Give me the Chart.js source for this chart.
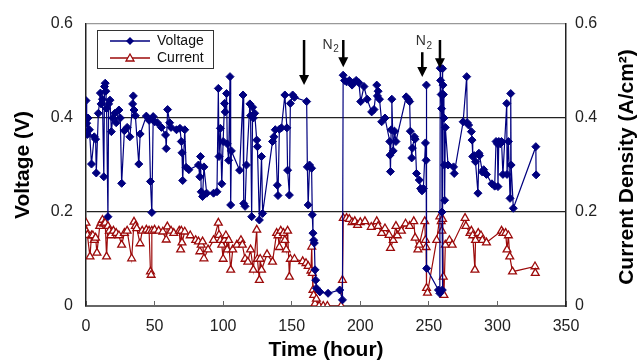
<!DOCTYPE html>
<html>
<head>
<meta charset="utf-8">
<script src="https://cdn.jsdelivr.net/npm/chart.js@4.4.0/dist/chart.umd.min.js"></script>
<style>
  body { margin: 0; background: #fff; }
  canvas { display: block; }
</style>
</head>
<body>
<canvas id="chart" width="642" height="363"></canvas>
<script>
// data (time in hours)
var voltageTime = [0, 0.5, 1, 1.5, 2.5, 4, 6, 7, 7.5, 9, 10.5, 11, 12, 13, 13.5, 14, 14.5, 15, 16, 16.5,
  17.5, 18.5, 19.5, 21, 22, 24, 25, 26, 28, 30, 32, 34, 34.5, 35, 36, 38.5, 39.5, 44, 46, 47,
  48, 49, 50, 52, 55, 58, 58.5, 59.5, 61, 62, 66, 68.5, 69.5, 70, 70.5, 72, 73, 75, 82, 83,
  83.5, 84, 85, 86, 88, 93, 95.5, 96.5, 97, 98, 99, 100, 101, 101.5, 102.5, 103, 104, 105, 105.5, 106,
  112, 114.5, 115, 116, 117, 119.5, 120, 120.8, 121.5, 122, 123, 124.5, 125, 126.4, 128, 128.8, 136, 137,
  138, 139.5, 140, 141, 142.5, 145, 146.5, 147, 148.3, 149, 150.7, 152, 160.9, 161.4, 162, 163, 164.5, 165,
  165.5, 166, 166.5, 167, 167.5, 168, 170.5, 176.5, 185, 187, 187.5, 188.5, 190, 192, 194, 195, 197, 199,
  200.3, 202.7, 205, 208.3, 210, 212, 212.5, 213, 214, 215.6, 218, 221.5, 221.7, 222, 222.5, 223, 224, 225,
  226, 233.5, 235, 236, 236.5, 237.5, 238, 239.5, 240, 241, 243, 244, 245, 246, 247.5, 248, 248.2, 248.4,
  257, 258, 258.3, 258.6, 259, 259.3, 259.6, 259.8, 260, 260.3, 260.6, 261, 261.3, 261.5, 262, 264, 268, 268.5,
  275, 277.6, 278, 279, 281, 281.5, 282, 283, 284, 285.8, 286.5, 287, 289, 290, 292, 296, 298, 299,
  300, 300.4, 301, 302, 303, 304, 306.8, 307, 308, 309.2, 309.7, 310, 311.6, 328, 328.2];
var voltageValue = [0.437, 0.389, 0.365, 0.40, 0.375, 0.302, 0.36, 0.355, 0.283, 0.41, 0.453, 0.43, 0.44, 0.275, 0.467, 0.474, 0.457, 0.42, 0.19, 0.43,
  0.438, 0.371, 0.40, 0.41, 0.39, 0.417, 0.40, 0.261, 0.373, 0.38, 0.36, 0.43, 0.447, 0.417, 0.405, 0.302, 0.366, 0.404, 0.395, 0.265,
  0.199, 0.403, 0.392, 0.39, 0.38, 0.364, 0.335, 0.418, 0.39, 0.38, 0.375, 0.378, 0.35, 0.326, 0.267, 0.375, 0.295, 0.29, 0.30, 0.275,
  0.318, 0.243, 0.233, 0.296, 0.24, 0.24, 0.243, 0.463, 0.318, 0.378, 0.26, 0.35, 0.431, 0.413, 0.452, 0.345, 0.31, 0.488, 0.215, 0.33,
  0.289, 0.449, 0.218, 0.212, 0.30, 0.43, 0.405, 0.19, 0.423, 0.40, 0.41, 0.353, 0.339, 0.183, 0.318, 0.197, 0.35, 0.36,
  0.375, 0.257, 0.235, 0.376, 0.379, 0.449, 0.379, 0.289, 0.236, 0.431, 0.449, 0.444, 0.435, 0.296, 0.215, 0.30, 0.293, 0.194,
  0.155, 0.14, 0.134, 0.077, 0.055, 0.038, 0.03, 0.027, 0.034, 0.013, 0.491, 0.48, 0.477, 0.48, 0.47, 0.475, 0.48, 0.475,
  0.435, 0.467, 0.44, 0.413, 0.418, 0.47, 0.447, 0.457, 0.44, 0.392, 0.40, 0.35, 0.321, 0.286, 0.375, 0.44, 0.33, 0.372,
  0.35, 0.445, 0.44, 0.435, 0.372, 0.315, 0.336, 0.36, 0.355, 0.282, 0.268, 0.25, 0.245, 0.25, 0.347, 0.31, 0.47, 0.08,
  0.034, 0.027, 0.506, 0.48, 0.45, 0.42, 0.2, 0.034, 0.505, 0.47, 0.45, 0.40, 0.30, 0.225, 0.38, 0.30, 0.296, 0.282,
  0.392, 0.488, 0.39, 0.385, 0.371, 0.353, 0.318, 0.32, 0.307, 0.24, 0.325, 0.32, 0.285, 0.29, 0.28, 0.26, 0.255, 0.35,
  0.345, 0.254, 0.35, 0.345, 0.35, 0.28, 0.431, 0.28, 0.35, 0.229, 0.452, 0.30, 0.208, 0.339, 0.279];

var currentTime = [0, 0.5, 1, 2.9, 4, 5, 6, 7, 8, 10, 11, 12, 13, 14, 15, 16, 17, 18, 20, 22,
  24, 26, 28, 30, 33.3, 35, 36, 37, 39.4, 41, 44, 46, 47, 47.5, 48, 50, 53, 56, 58.5, 59.3,
  62, 64, 68, 69, 69.5, 70, 72, 76, 80, 82, 83, 84, 85, 86, 89, 93, 96.5, 97, 98, 99,
  100, 101, 102, 103, 104, 105.5, 107, 110, 113, 114, 116, 118, 120, 122, 124.5, 125, 126.4, 127, 128, 132,
  136, 139, 140, 141, 142, 144, 145, 146, 147, 148.3, 149, 152, 158, 160.4, 162, 164, 164.6, 165, 165.5, 166,
  167, 168, 170, 173, 176, 186, 187, 187.6, 190, 192, 194, 196, 198, 200, 203.4, 208, 212, 213, 215.6, 218,
  221, 222, 224, 226, 227, 230, 233, 236, 239, 240, 242, 243, 247, 247.5, 248, 248.3, 249, 255.7, 258, 259,
  259.5, 260, 260.5, 261, 262, 265, 267, 276.4, 277, 280, 281, 282, 283.6, 284, 286, 288, 289, 292, 303, 304,
  306, 307, 308, 309, 311, 327.4, 327.6];
var currentValue = [0.177, 0.158, 0.151, 0.105, 0.15, 0.15, 0.14, 0.145, 0.113, 0.17, 0.177, 0.183, 0.175, 0.177, 0.105, 0.17, 0.16, 0.15, 0.16, 0.155,
  0.15, 0.13, 0.155, 0.16, 0.101, 0.179, 0.17, 0.165, 0.133, 0.16, 0.162, 0.16, 0.073, 0.066, 0.16, 0.162, 0.16, 0.158, 0.141, 0.169,
  0.16, 0.155, 0.16, 0.12, 0.16, 0.135, 0.158, 0.15, 0.14, 0.137, 0.116, 0.13, 0.137, 0.101, 0.12, 0.14, 0.177, 0.151, 0.14, 0.13,
  0.1, 0.14, 0.15, 0.12, 0.14, 0.077, 0.12, 0.13, 0.14, 0.13, 0.1, 0.094, 0.12, 0.077, 0.162, 0.1, 0.055, 0.1, 0.077, 0.11,
  0.094, 0.155, 0.15, 0.125, 0.16, 0.155, 0.14, 0.12, 0.16, 0.062, 0.1, 0.1, 0.095, 0.091, 0.085, 0.075, 0.126, 0.07, 0.034, 0.023,
  0.005, 0.015, 0, 0, 0, 0, 0.055, 0.187, 0.187, 0.185, 0.178, 0.18, 0.172, 0.178, 0.18, 0.168, 0.18, 0.17, 0.155, 0.165,
  0.151, 0.123, 0.14, 0.17, 0.15, 0.16, 0.175, 0.17, 0.18, 0.145, 0.12, 0.13, 0.18, 0.14, 0.125, 0.038, 0.028, 0.14, 0.19, 0.18,
  0.16, 0.185, 0.062, 0.023, 0.13, 0.14, 0.13, 0.187, 0.17, 0.155, 0.16, 0.15, 0.077, 0.14, 0.155, 0.15, 0.14, 0.135, 0.16, 0.155,
  0.155, 0.12, 0.15, 0.105, 0.073, 0.084, 0.07];

// N2 arrows: time, top of shaft, tip (in volts)
var arrowTime = [159, 187.6, 245.2, 258.1];
var arrowTop = [0.566, 0.566, 0.540, 0.566];
var arrowTip = [0.470, 0.508, 0.487, 0.506];
var n2Time = [172.5, 240.5];
var n2Value = [0.556, 0.563];

var blue = '#00007f';
var red = '#9c0a0a';

function toPoints(xs, ys) {
  return xs.map(function (t, i) { return { x: t, y: ys[i] }; });
}

Chart.defaults.font.family = "'Liberation Sans', Arial, sans-serif";

// 범례, 화살표, 오른쪽 축 제목
var extras = {
  id: 'extras',
  afterDraw: function (chart) {
    var c = chart.ctx;
    var xs = chart.scales.x;
    var ys = chart.scales.y;

    // arrows
    c.save();
    c.fillStyle = '#000';
    c.strokeStyle = '#000';
    c.lineWidth = 2.5;
    arrowTime.forEach(function (t, i) {
      var px = xs.getPixelForValue(t);
      var y0 = ys.getPixelForValue(arrowTop[i]);
      var y1 = ys.getPixelForValue(arrowTip[i]);
      c.beginPath();
      c.moveTo(px, y0);
      c.lineTo(px, y1 - 8);
      c.stroke();
      c.beginPath();
      c.moveTo(px - 5, y1 - 10);
      c.lineTo(px + 5, y1 - 10);
      c.lineTo(px, y1);
      c.closePath();
      c.fill();
    });
    // N2 labels
    c.fillStyle = '#333';
    c.textBaseline = 'middle';
    c.textAlign = 'left';
    n2Time.forEach(function (t, i) {
      var px = xs.getPixelForValue(t);
      var py = ys.getPixelForValue(n2Value[i]);
      c.font = "14px 'Liberation Sans', Arial, sans-serif";
      c.fillText('N', px, py);
      var w = c.measureText('N').width;
      c.font = "10px 'Liberation Sans', Arial, sans-serif";
      c.fillText('2', px + w + 0.5, py + 5);
    });
    c.restore();

    // legend box
    c.save();
    c.fillStyle = '#fff';
    c.fillRect(97, 30, 116, 38);
    c.strokeStyle = '#333';
    c.lineWidth = 1;
    c.strokeRect(97.5, 30.5, 116, 38);
    var ds = chart.data.datasets;
    [41, 58].forEach(function (ly, i) {
      c.strokeStyle = ds[i].borderColor;
      c.lineWidth = 1.5;
      c.beginPath();
      c.moveTo(110, ly);
      c.lineTo(150, ly);
      c.stroke();
      c.beginPath();
      if (i === 0) {
        c.fillStyle = ds[i].borderColor;
        c.moveTo(130, ly - 4); c.lineTo(134, ly); c.lineTo(130, ly + 4); c.lineTo(126, ly);
        c.closePath();
        c.fill();
      } else {
        c.fillStyle = '#fff';
        c.lineWidth = 1.3;
        c.moveTo(130, ly - 4); c.lineTo(134, ly + 3); c.lineTo(126, ly + 3);
        c.closePath();
        c.fill();
        c.stroke();
      }
      c.fillStyle = '#111';
      c.font = "14px 'Liberation Sans', Arial, sans-serif";
      c.textAlign = 'left';
      c.textBaseline = 'middle';
      c.fillText(ds[i].label, 157, ly);
    });
    c.restore();

    // right axis title, reads bottom to top
    c.save();
    c.translate(627, (chart.chartArea.top + chart.chartArea.bottom) / 2 + 2);
    c.rotate(-Math.PI / 2);
    c.fillStyle = '#000';
    c.font = "bold 21px 'Liberation Sans', Arial, sans-serif";
    c.textAlign = 'center';
    c.textBaseline = 'middle';
    c.fillText('Current Density (A/cm\u00b2)', 0, 0);
    c.restore();
  }
};

function tickText(v) {
  return v === 0 ? '0' : v.toFixed(1);
}

var ctx = document.getElementById('chart').getContext('2d');
var chart = new Chart(ctx, {
  type: 'line',
  data: {
    datasets: [
      {
        label: 'Voltage',
        data: toPoints(voltageTime, voltageValue),
        yAxisID: 'y',
        borderColor: blue,
        backgroundColor: blue,
        borderWidth: 1.2,
        pointStyle: 'rectRot',
        pointRadius: 4,
        pointBorderWidth: 1,
      },
      {
        label: 'Current',
        data: toPoints(currentTime, currentValue),
        yAxisID: 'y1',
        borderColor: red,
        backgroundColor: '#fff',
        borderWidth: 1.2,
        pointStyle: 'triangle',
        pointRadius: 4.5,
        pointBorderWidth: 1.3,
      },
    ],
  },
  options: {
    responsive: false,
    animation: false,
    devicePixelRatio: 1,
    layout: { padding: { top: 24, left: 0, right: 0, bottom: 0 } },
    plugins: {
      legend: { display: false },
      tooltip: { enabled: false },
    },
    scales: {
      x: {
        type: 'linear',
        min: 0,
        max: 350,
        ticks: { stepSize: 50, padding: 16, color: '#222', font: { size: 16 } },
        grid: { drawOnChartArea: false, drawTicks: true, tickLength: -5, color: '#666' },
        border: { color: '#666', width: 2 },
        title: {
          display: true,
          text: 'Time (hour)',
          color: '#000',
          font: { size: 21, weight: 'bold' },
          padding: { top: 0, bottom: 0 },
        },
        afterFit: function (s) { s.height = 57; },
      },
      y: {
        position: 'left',
        min: 0,
        max: 0.6,
        ticks: { stepSize: 0.2, padding: 13, color: '#222', font: { size: 16 }, callback: tickText },
        grid: {
          drawTicks: false,
          lineWidth: 1.3,
          color: function (c) {
            if (c.tick.value >= 0.59) return '#999';
            if (c.tick.value === 0) return '#666';
            return '#222';
          },
        },
        border: { color: '#222', width: 1.5 },
        title: {
          display: true,
          text: 'Voltage (V)',
          color: '#000',
          font: { size: 21, weight: 'bold' },
          padding: { top: 11, bottom: 0 },
        },
        afterFit: function (s) { s.width = 86; },
      },
      y1: {
        position: 'right',
        min: 0,
        max: 0.6,
        ticks: { stepSize: 0.2, padding: 9, color: '#222', font: { size: 16 }, callback: tickText },
        grid: { drawOnChartArea: false, drawTicks: false },
        border: { color: '#222', width: 1.5 },
        afterFit: function (s) { s.width = 76; },
      },
    },
  },
  plugins: [extras],
});
</script>
</body>
</html>
